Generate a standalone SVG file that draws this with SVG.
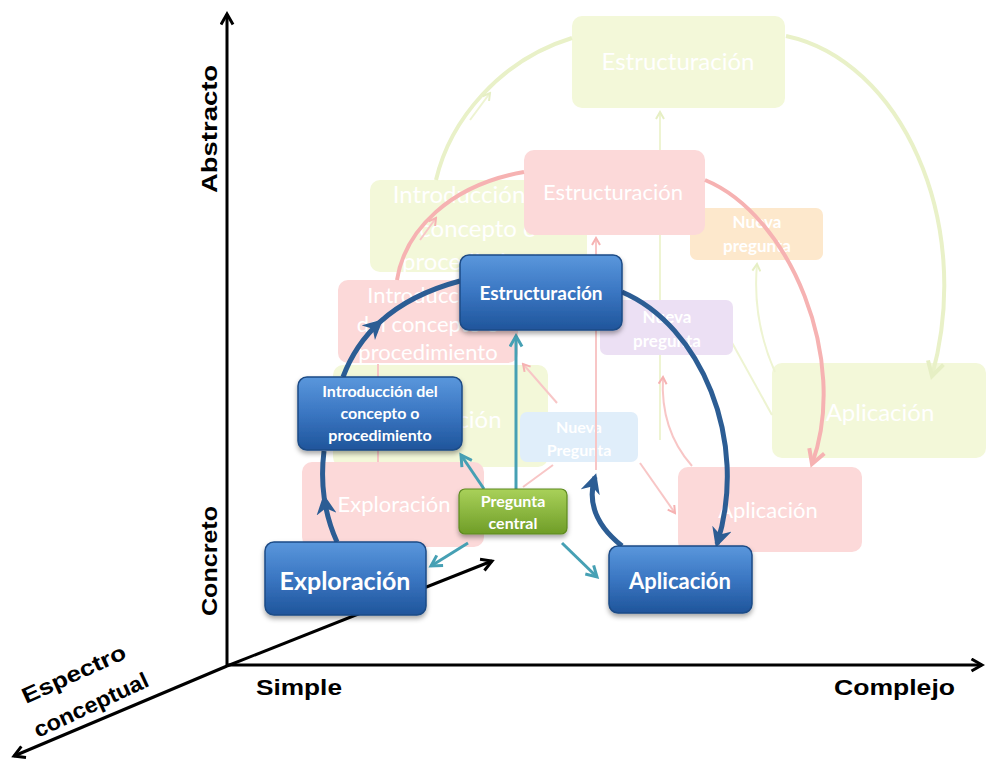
<svg xmlns="http://www.w3.org/2000/svg" width="987" height="762" viewBox="0 0 987 762">
<defs>
<linearGradient id="gBlue" x1="0" y1="0" x2="0" y2="1">
<stop offset="0" stop-color="#5a97dc"/><stop offset="0.5" stop-color="#3a76c2"/><stop offset="1" stop-color="#1f559b"/>
</linearGradient>
<linearGradient id="gGreen" x1="0" y1="0" x2="0" y2="1">
<stop offset="0" stop-color="#a9d15a"/><stop offset="1" stop-color="#6f9d27"/>
</linearGradient>
<filter id="sh" x="-20%" y="-20%" width="140%" height="150%">
<feDropShadow dx="0" dy="3" stdDeviation="2.5" flood-color="#000" flood-opacity="0.35"/>
</filter>
<marker id="aBlue" viewBox="0 0 10 10" refX="8" refY="5" markerWidth="4" markerHeight="4" orient="auto" markerUnits="strokeWidth">
<path d="M0,0 L10,5 L0,10 L3,5 z" fill="#2c5d94"/>
</marker>
<marker id="aTeal" viewBox="0 0 10 10" refX="8" refY="5" markerWidth="5" markerHeight="5" orient="auto" markerUnits="strokeWidth">
<path d="M1,1 L8,5 L1,9" fill="none" stroke="#46a0b4" stroke-width="2"/>
</marker>
<marker id="aBlack" viewBox="0 0 10 10" refX="8" refY="5" markerWidth="5" markerHeight="5" orient="auto" markerUnits="strokeWidth">
<path d="M1,1 L8,5 L1,9" fill="none" stroke="#000" stroke-width="2"/>
</marker>
<marker id="aRed" viewBox="0 0 10 10" refX="8" refY="5" markerWidth="5" markerHeight="5" orient="auto" markerUnits="strokeWidth">
<path d="M1,1 L8,5 L1,9" fill="none" stroke="#f6b2b2" stroke-width="2"/>
</marker>
<marker id="aGreen" viewBox="0 0 10 10" refX="8" refY="5" markerWidth="5" markerHeight="5" orient="auto" markerUnits="strokeWidth">
<path d="M1,1 L8,5 L1,9" fill="none" stroke="#e6efc4" stroke-width="2"/>
</marker>
</defs>
<style>
.blue{fill:url(#gBlue);stroke:#1d4b86;stroke-width:1.5;filter:url(#sh)}
.green{fill:url(#gGreen);stroke:#5d8a1f;stroke-width:1.2;filter:url(#sh)}
.bt{font-family:Lato,"Open Sans","Liberation Sans",sans-serif;font-weight:bold;fill:#fff;text-anchor:middle}
.ft{font-family:Lato,"Open Sans","Liberation Sans",sans-serif;fill:#fff;text-anchor:middle}
.fg{fill:#f3f8d9}
.fr{fill:#fcd9d9}
.fo{fill:#fde8cc}
.fp{fill:#ece0f4}
.fb{fill:#e0eefa}
.ax{stroke:#000;stroke-width:3;fill:none}
.axt{font-family:"Liberation Sans",Arial,sans-serif;font-weight:bold;font-size:22px;fill:#000}
.barc{fill:none;stroke:#2c5d94;stroke-width:5}
.teal{fill:none;stroke:#46a0b4;stroke-width:3}
.rarc{fill:none;stroke:#f6b2b2;stroke-width:4}
.rthin{fill:none;stroke:#f8c6c6;stroke-width:2}
.garc{fill:none;stroke:#e9f1c8;stroke-width:4}
.gthin{fill:none;stroke:#eef4d2;stroke-width:2}
</style>

<rect width="987" height="762" fill="#fff"/>

<!-- faded green layer -->
<g id="faded-green">
<g id="g-estructuracion"><rect class="fg" x="572" y="16" width="213" height="92" rx="10"/><text class="ft" x="678" y="70" font-size="24">Estructuración</text></g>
<g id="g-introduccion"><rect class="fg" x="370" y="180" width="217" height="92" rx="10"/><text class="ft" x="478" y="203" font-size="24">Introducción del</text><text class="ft" x="478" y="237" font-size="24">concepto o</text><text class="ft" x="478" y="270" font-size="24">procedimiento</text></g>
<g id="g-exploracion"><rect class="fg" x="333" y="365" width="215" height="102" rx="10"/><text class="ft" x="440" y="428" font-size="24">Exploración</text></g>
<g id="g-aplicacion"><rect class="fg" x="772" y="363" width="214" height="95" rx="10"/><text class="ft" x="880" y="421" font-size="24">Aplicación</text></g>
<g id="g-nueva"><rect class="fo" x="690" y="208" width="133" height="52" rx="7"/><text class="ft" x="757" y="228" font-size="17" font-weight="bold">Nueva</text><text class="ft" x="757" y="252" font-size="17" font-weight="bold">pregunta</text></g>
</g>
<g id="faded-green-connectors">
<path class="garc" d="M436,180 C450,120 500,60 572,38"/>
<path class="gthin" d="M470,120 L490,93" marker-end="url(#aGreen)"/>
<path class="garc" d="M786,36 C900,60 975,220 932,376" marker-end="url(#aGreen)"/>
<path class="gthin" d="M660,440 L660,112" marker-end="url(#aGreen)"/>
<path class="gthin" d="M775,372 Q752,320 757,264" marker-end="url(#aGreen)"/>
<path class="gthin" d="M725,330 L772,415"/>
</g>

<!-- faded red layer -->
<g id="faded-red">
<g id="r-estructuracion"><rect class="fr" x="524" y="150" width="181" height="85" rx="10"/><text class="ft" x="613" y="200" font-size="22">Estructuración</text></g>
<g id="r-introduccion"><rect class="fr" x="338" y="280" width="180" height="83" rx="10"/><text class="ft" x="428" y="303" font-size="22">Introducción</text><text class="ft" x="428" y="332" font-size="22">del concepto o</text><text class="ft" x="428" y="360" font-size="22">procedimiento</text></g>
<g id="r-exploracion"><rect class="fr" x="302" y="462" width="182" height="85" rx="10"/><text class="ft" x="394" y="512" font-size="22">Exploración</text></g>
<g id="r-aplicacion"><rect class="fr" x="678" y="467" width="184" height="85" rx="10"/><text class="ft" x="768" y="518" font-size="22">Aplicación</text></g>
<g id="r-nueva"><rect class="fp" x="600" y="300" width="133" height="55" rx="7"/><text class="ft" x="667" y="323" font-size="17" font-weight="bold">Nueva</text><text class="ft" x="667" y="347" font-size="17" font-weight="bold">pregunta</text></g>
<g id="b-nueva"><rect class="fb" x="520" y="412" width="118" height="50" rx="7"/><text class="ft" x="579" y="433" font-size="16" font-weight="bold">Nueva</text><text class="ft" x="579" y="456" font-size="16" font-weight="bold">Pregunta</text></g>
</g>
<g id="faded-red-connectors">
<path class="rarc" d="M397,280 C405,230 450,185 524,172"/>
<path class="rthin" d="M420,240 L436,218" marker-end="url(#aRed)"/>
<path class="rarc" d="M705,180 C790,215 850,360 812,464" marker-end="url(#aRed)"/>
<path class="rthin" d="M378,462 L378,364"/>
<path class="rthin" d="M596,470 L596,238" marker-end="url(#aRed)"/>
<path class="rthin" d="M557,403 L523,364" marker-end="url(#aRed)"/>
<path class="rthin" d="M640,463 L675,513" marker-end="url(#aRed)"/>
<path class="rthin" d="M692,466 Q660,430 663,377" marker-end="url(#aRed)"/>
<path class="rthin" d="M523,487 L553,465"/>
</g>

<!-- axes -->
<g id="axes">
<path class="ax" d="M227,667 L227,14" marker-end="url(#aBlack)"/>
<path class="ax" d="M226,665 L982,665" marker-end="url(#aBlack)"/>
<path class="ax" d="M227,666 L14,756" marker-end="url(#aBlack)"/>
<path class="ax" d="M227,666 L492,561" marker-end="url(#aBlack)"/>
<text class="axt" transform="translate(217,129) rotate(-90)" text-anchor="middle" font-size="24" textLength="128" lengthAdjust="spacingAndGlyphs">Abstracto</text>
<text class="axt" transform="translate(217,561) rotate(-90)" text-anchor="middle" font-size="24" textLength="110" lengthAdjust="spacingAndGlyphs">Concreto</text>
<text class="axt" x="256" y="695" textLength="86" lengthAdjust="spacingAndGlyphs">Simple</text>
<text class="axt" x="834" y="695" textLength="121" lengthAdjust="spacingAndGlyphs">Complejo</text>
<text class="axt" transform="translate(26,704) rotate(-24.5)" textLength="112" lengthAdjust="spacingAndGlyphs">Espectro</text>
<text class="axt" transform="translate(38,738) rotate(-25)" textLength="124" lengthAdjust="spacingAndGlyphs">conceptual</text>
</g>

<!-- main connectors -->
<g id="connectors">
<path class="barc" d="M337,542 Q327.5,521 324.25,498.25 Q321,475.5 324,451" marker-mid="url(#aBlue)"/>
<path class="barc" d="M343,377 Q355.15,344.6 380.06,321.9 Q410.5,294.2 460,281" marker-mid="url(#aBlue)"/>
<path class="barc" d="M622,292 C700,325 750,440 717,544" marker-end="url(#aBlue)"/>
<path class="barc" d="M622,546 Q583,515 595,477" marker-end="url(#aBlue)"/>
<path class="teal" d="M516,489 L516,336" marker-end="url(#aTeal)"/>
<path class="teal" d="M484,489 L461,455" marker-end="url(#aTeal)"/>
<path class="teal" d="M468,543 L431,566" marker-end="url(#aTeal)"/>
<path class="teal" d="M562,543 L597,577" marker-end="url(#aTeal)"/>
</g>

<!-- main nodes -->
<g id="n-estructuracion"><rect class="blue" x="460" y="255" width="162" height="75" rx="9"/><text class="bt" x="541" y="300" font-size="19">Estructuración</text></g>
<g id="n-introduccion"><rect class="blue" x="298" y="377" width="164" height="73" rx="9"/><text class="bt" x="380" y="397" font-size="16">Introducción del</text><text class="bt" x="380" y="419" font-size="16">concepto o</text><text class="bt" x="380" y="441" font-size="16">procedimiento</text></g>
<g id="n-exploracion"><rect class="blue" x="265" y="542" width="161" height="73" rx="9"/><text class="bt" x="345" y="590" font-size="25">Exploración</text></g>
<g id="n-aplicacion"><rect class="blue" x="609" y="546" width="143" height="67" rx="9"/><text class="bt" x="680" y="589" font-size="22">Aplicación</text></g>
<g id="n-pregunta"><rect class="green" x="459" y="489" width="108" height="45" rx="6"/><text class="bt" x="513" y="507" font-size="16">Pregunta</text><text class="bt" x="513" y="529" font-size="16">central</text></g>
</svg>
